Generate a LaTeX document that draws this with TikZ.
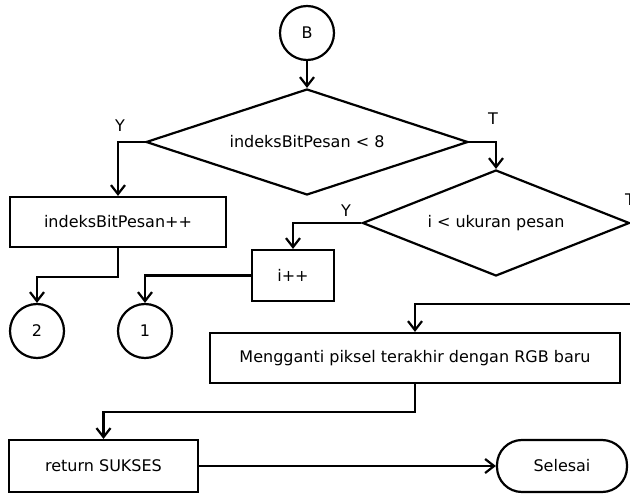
\documentclass[tikz,border=0pt]{standalone}
\usepackage{fontspec}
\setmainfont{DejaVu Sans}
\usetikzlibrary{shapes.geometric,arrows.meta}
\begin{document}
\begin{tikzpicture}[x=1pt,y=-1pt,
  txt/.style={font=\fontsize{16}{18}\selectfont},
  proc/.style={txt,draw,line width=2.2pt,rectangle,inner sep=0pt},
  conn/.style={txt,draw,line width=2.2pt,circle,inner sep=0pt,minimum size=54pt},
  dec/.style={txt,draw,line width=2.2pt,diamond,inner sep=0pt,aspect=3},
  term/.style={txt,draw,line width=2.2pt,rectangle,rounded corners=25pt,inner sep=0pt},
  lbl/.style={txt,inner sep=0pt},
  arr/.style={line width=2.2pt,-{Straight Barb[length=9pt,width=14pt]}}
]
\useasboundingbox (0,0) rectangle (630,495);
\node[conn] (B) at (307,33) {B};
\node[dec,minimum width=322pt,minimum height=106pt] (d1) at (307,142) {indeksBitPesan < 8};
\node[proc,minimum width=216pt,minimum height=50pt] (ibp) at (118,222) {indeksBitPesan++};
\node[dec,minimum width=267pt,minimum height=106pt] (d2) at (496,223) {i < ukuran pesan};
\node[proc,minimum width=82pt,minimum height=51pt] (ipp) at (293,275.5) {i++};
\node[conn] (c2) at (37,331) {2};
\node[conn] (c1) at (145,331) {1};
\node[proc,minimum width=410pt,minimum height=50pt] (meng) at (415,358) {Mengganti piksel terakhir dengan RGB baru};
\node[proc,minimum width=189pt,minimum height=52pt] (ret) at (103.5,466) {return SUKSES};
\node[term,minimum width=130pt,minimum height=52pt] (sel) at (562,466) {Selesai};
\node[lbl] (y1) at (120,126) {Y};
\node[lbl] (t1) at (493,119) {T};
\node[lbl] (y2) at (346,211) {Y};
\node[lbl] (t2) at (630,200) {T};
\draw[arr] (B.south) -- (d1.north);
\draw[arr] (d1.west) -| (ibp.north);
\draw[arr] (d1.east) -| (d2.north);
\draw[arr] (d2.west) -| (ipp.north);
\draw[arr] (ibp.south) -- ++(0,29) -| (c2.north);
\draw[arr] (ipp.west) -| (c1.north);
\draw[arr] (d2.east) -- ++(0,81) -| (meng.north);
\draw[arr] (meng.south) -- ++(0,28) -| (ret.north);
\draw[arr] (ret.east) -- (sel.west);
\end{tikzpicture}
\end{document}
